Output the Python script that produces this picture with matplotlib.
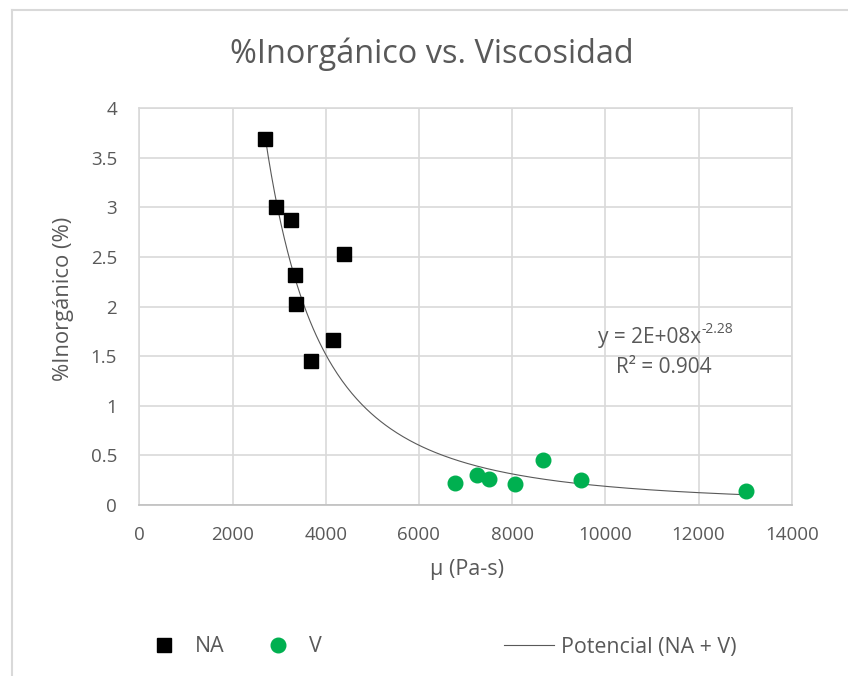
import numpy as np
import matplotlib.pyplot as plt
from matplotlib.lines import Line2D

plt.rcParams['font.family'] = ['Open Sans', 'DejaVu Sans']
plt.rcParams['axes.unicode_minus'] = False

visc_na = [2697, 2927, 3249, 4386, 3335, 3356, 4157, 3678]
inorg_na = [3.690, 3.004, 2.869, 2.533, 2.321, 2.028, 1.663, 1.453]

visc_v = [6773, 7245, 7496, 8054, 8661, 9470, 13016]
inorg_v = [0.217, 0.298, 0.262, 0.212, 0.454, 0.257, 0.139]

xticks = [0, 2000, 4000, 6000, 8000, 10000, 12000, 14000]
yticks = [0, 0.5, 1, 1.5, 2, 2.5, 3, 3.5, 4]

txt = '#595959'
grid = '#D9D9D9'
verde = '#00B050'

W, H = 848, 676
fig = plt.figure(figsize=(W / 100, H / 100), dpi=100)

def fx(px):
    return px / W

def fy(py):
    return 1 - py / H

# marco del grafico (solo se ven borde izquierdo y superior)
fig.add_artist(Line2D([fx(12), fx(12)], [fy(10), 0], color=grid, lw=1.5))
fig.add_artist(Line2D([fx(12), 1], [fy(10), fy(10)], color=grid, lw=1.5))

ax = fig.add_axes([fx(139.3), fy(505), fx(791.7 - 139.3), (505 - 108.3) / H])

# ajuste potencial con todos los puntos (NA + V)
x_all = np.array(visc_na + visc_v, dtype=float)
y_all = np.array(inorg_na + inorg_v, dtype=float)
b, lna = np.polyfit(np.log(x_all), np.log(y_all), 1)
a = np.exp(lna)
pred = lna + b * np.log(x_all)
ss_res = np.sum((np.log(y_all) - pred) ** 2)
ss_tot = np.sum((np.log(y_all) - np.log(y_all).mean()) ** 2)
r2 = 1 - ss_res / ss_tot

xc = np.linspace(x_all.min(), x_all.max(), 300)
ax.plot(xc, a * xc ** b, color=txt, lw=0.8, zorder=2)

ax.plot(visc_na, inorg_na, 's', color='black', ms=10.5, zorder=3)
ax.plot(visc_v, inorg_v, 'o', color=verde, ms=10.5, mec=verde, zorder=3)

ax.set_xlim(0, 14000)
ax.set_ylim(0, 4)
ax.set_xticks(xticks)
ax.set_yticks(yticks)
ax.set_xticklabels([str(t) for t in xticks])
ax.set_yticklabels(['%g' % t for t in yticks])
ax.grid(True, color=grid, lw=1.2)
ax.set_axisbelow(True)
for s in ax.spines.values():
    s.set_color(grid)
    s.set_linewidth(1.2)
ax.spines['bottom'].set_color('#BFBFBF')
ax.tick_params(length=0, labelsize=13.5, colors=txt)
ax.tick_params(axis='x', pad=15)
ax.tick_params(axis='y', pad=16)

fig.text(fx(432), fy(54), '%Inorgánico vs. Viscosidad', ha='center', va='center',
         fontsize=23.4, color=txt)
fig.text(fx(63), fy(298.5), '%Inorgánico (%)', rotation=90, ha='center', va='center',
         fontsize=15.8, color=txt)
fig.text(fx(466.5), fy(569), 'μ (Pa-s)', ha='center', va='center', fontsize=15.5, color=txt)

# etiqueta de la linea de tendencia (exponente como superindice aparte)
eq = fig.text(fx(701), fy(338), 'y = %.0Ex' % a, ha='right', va='center',
              fontsize=15, color=txt)
ax.annotate('%.2f' % b, xy=(1.0, 0.55), xycoords=eq, ha='left', va='bottom',
            fontsize=10, color=txt, annotation_clip=False)
fig.text(fx(664), fy(367), 'R² = %.3f' % r2, ha='center', va='center',
         fontsize=15, color=txt)

# leyenda inferior
h_na = Line2D([], [], marker='s', ls='none', color='black', ms=10.5)
h_v = Line2D([], [], marker='o', ls='none', color=verde, ms=10.5)
h_t = Line2D([], [], color=txt, lw=0.8)
ly = fy(647)
common = dict(loc='center left', frameon=False, fontsize=15.4, borderpad=0,
              borderaxespad=0, labelcolor=txt)
fig.legend([h_na], ['NA'], bbox_to_anchor=(fx(152.9), ly), handlelength=1.0,
           handletextpad=0.97, **common)
fig.legend([h_v], ['V'], bbox_to_anchor=(fx(267.3), ly), handlelength=1.0,
           handletextpad=0.97, **common)
fig.legend([h_t], ['Potencial (NA + V)'], bbox_to_anchor=(fx(503.5), ly),
           handlelength=2.35, handletextpad=0.34, **common)

fig.savefig('out.png', dpi=100, facecolor='white')
